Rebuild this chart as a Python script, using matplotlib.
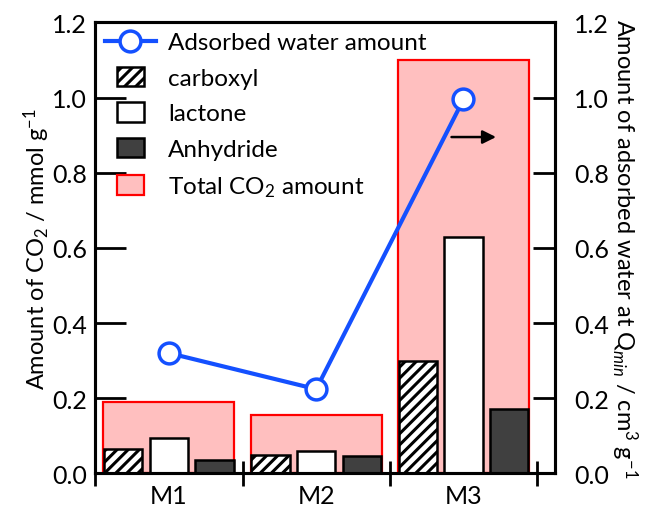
import matplotlib
matplotlib.use("Agg")
import matplotlib.pyplot as plt
import matplotlib.patches as mpatches
from matplotlib.container import BarContainer
from matplotlib.legend_handler import HandlerPatch, update_from_first_child
import numpy as np

plt.rcParams['font.family'] = ['Lato', 'DejaVu Sans']
plt.rcParams['mathtext.fontset'] = 'custom'
plt.rcParams['mathtext.rm'] = 'Lato'
plt.rcParams['mathtext.it'] = 'Lato:italic'
plt.rcParams['hatch.linewidth'] = 2.2

samples = ["M1", "M2", "M3"]
total_co2 = [0.19, 0.155, 1.10]
carboxyl = [0.064, 0.048, 0.30]
lactone = [0.093, 0.059, 0.63]
anhydride = [0.035, 0.045, 0.17]
water = [0.32, 0.224, 0.995]

x = np.arange(len(samples))
blue = "#1450ff"


def square_patch(legend, orig_handle, xdescent, ydescent, width, height, fontsize):
    # small square swatch centred in the handle box
    w = 0.52 * width
    h = 1.15 * height
    return mpatches.Rectangle((xdescent + (width - w) / 2, ydescent - 0.08 * height), w, h)


fig = plt.figure(figsize=(6.66, 5.10), dpi=100)
ax = fig.add_axes([0.143, 0.07, 0.69, 0.884])
ax2 = ax.twinx()

# total CO2 as a wide pink box behind the three groups
ax.bar(x, total_co2, width=0.89, color="#ffbfbf", edgecolor="red", linewidth=1.6,
       label=r"Total CO$_2$ amount", zorder=1)
ax.bar(x - 0.31, carboxyl, width=0.26, color="white", edgecolor="black", hatch="///",
       linewidth=1.8, label="carboxyl", zorder=2)
ax.bar(x, lactone, width=0.26, color="white", edgecolor="black",
       linewidth=1.8, label="lactone", zorder=2)
ax.bar(x + 0.31, anhydride, width=0.26, color="#404040", edgecolor="black",
       linewidth=1.8, label="Anhydride", zorder=2)

ax2.plot(x, water, color=blue, lw=3, marker="o", ms=15, mfc="white", mec=blue, mew=2.5,
         label="Adsorbed water amount", zorder=5)
ax2.annotate("", xy=(2.24, 0.895), xytext=(1.9, 0.895),
             arrowprops=dict(arrowstyle="-|>", color="black", lw=1.8, mutation_scale=20))

for a in (ax, ax2):
    a.set_ylim(0, 1.2)
    a.set_yticks(np.arange(0, 1.21, 0.2))
    a.set_yticklabels([f"{v:.1f}" for v in np.arange(0, 1.21, 0.2)])
ax.set_xlim(-0.5, 2.62)
ax.set_xticks(x)
ax.set_xticklabels(samples)
ax.set_xticks([-0.5, 0.5, 1.5, 2.5], minor=True)
ax.tick_params(axis="x", which="major", length=0, labelsize=18, pad=8)
ax.tick_params(axis="x", which="minor", direction="inout", length=18, width=2)
ax.tick_params(axis="y", direction="in", length=22, width=2, labelsize=18, pad=6)
ax2.tick_params(axis="y", direction="in", length=16, width=2, labelsize=18, pad=14)
for a in (ax, ax2):
    for s in a.spines.values():
        s.set_linewidth(2.2)

ax.set_ylabel(r"Amount of CO$_2$ / mmol g$^{-1}$", fontsize=17, labelpad=0)
ax2.set_ylabel(r"Amount of adsorbed water at Q$_{\mathit{min}}$ / cm$^{3}$ g$^{-1}$",
               fontsize=17, rotation=270, labelpad=22)

h1, l1 = ax.get_legend_handles_labels()
h2, l2 = ax2.get_legend_handles_labels()
handles = h2 + [h1[1], h1[2], h1[3], h1[0]]
labels = l2 + [l1[1], l1[2], l1[3], l1[0]]
bar_handler = HandlerPatch(patch_func=square_patch, update_func=update_from_first_child)
ax.legend(handles, labels, loc="upper left", frameon=False, fontsize=17.5,
          handlelength=2.1, labelspacing=0.6, borderaxespad=0.1, handletextpad=0.5,
          borderpad=0.3, handler_map={BarContainer: bar_handler})
ax2.set_zorder(ax.get_zorder() + 1)
ax2.patch.set_visible(False)

fig.savefig("out.png", dpi=100)
